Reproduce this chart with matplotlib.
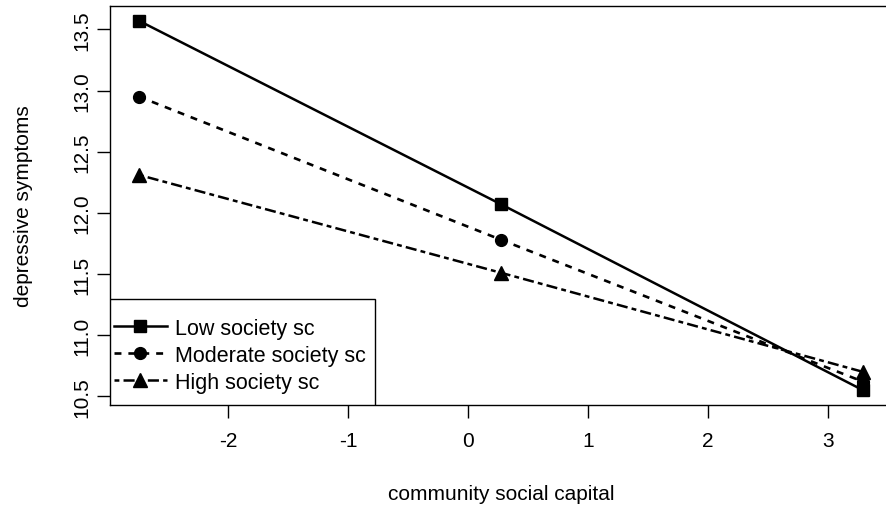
import matplotlib
matplotlib.use('Agg')
import matplotlib.pyplot as plt
from matplotlib.patches import Rectangle

plt.rcParams["font.family"] = ["Liberation Sans", "DejaVu Sans"]
plt.rcParams["lines.scale_dashes"] = False
plt.rcParams["axes.unicode_minus"] = False

# community social capital (-1 SD, mean, +1 SD)
csc = [-2.745, 0.275, 3.295]
low_sc = [13.57, 12.07, 10.55]
moderate_sc = [12.95, 11.78, 10.62]
high_sc = [12.31, 11.51, 10.70]

series_names = ["Low society sc", "Moderate society sc", "High society sc"]

fig = plt.figure(figsize=(8.86, 5.10), dpi=100)
ax = fig.add_axes([110 / 886, 1 - 406 / 510, 782 / 886, 399 / 510])

ax.plot(csc, low_sc, color="black", lw=1.8, marker="s", ms=8.5,
        label=series_names[0])
ax.plot(csc, moderate_sc, color="black", lw=1.9, marker="o", ms=8.5,
        dashes=(5, 5), label=series_names[1])
ax.plot(csc, high_sc, color="black", lw=1.8, marker="^", ms=10,
        dashes=(3.5, 3, 8, 3), label=series_names[2])

# R-style 4% padding
xr = max(csc) - min(csc)
ax.set_xlim(min(csc) - 0.04 * xr, max(csc) + 0.04 * xr)
allv = low_sc + moderate_sc + high_sc
yr = max(allv) - min(allv)
ax.set_ylim(min(allv) - 0.04 * yr, max(allv) + 0.04 * yr)

ax.set_xticks([-2, -1, 0, 1, 2, 3])
ax.set_yticks([10.5, 11.0, 11.5, 12.0, 12.5, 13.0, 13.5])
ax.set_yticklabels(["10.5", "11.0", "11.5", "12.0", "12.5", "13.0", "13.5"],
                   rotation=90, va="center")
ax.tick_params(direction="out", length=9.5, width=1, labelsize=15, colors="black")
ax.tick_params(axis="x", pad=9)
ax.tick_params(axis="y", pad=4)

for s in ax.spines.values():
    s.set_linewidth(1)
    s.set_color("black")

ax.set_xlabel("community social capital", fontsize=15, labelpad=25)
ax.set_ylabel("depressive symptoms", fontsize=15, labelpad=28)

# legend box drawn like R's bottomleft legend
ax.add_patch(Rectangle((0, 0), 0.339, 0.265, transform=ax.transAxes,
                       facecolor="white", edgecolor="black", lw=1, zorder=4))
leg = ax.legend(loc="lower left", bbox_to_anchor=(-0.001, 0.02), borderaxespad=0,
                fontsize=15.5, handlelength=2.5, handletextpad=0.35,
                labelspacing=0.28, borderpad=0.2, frameon=False)
leg.set_zorder(5)

fig.savefig("out.png", dpi=100)
